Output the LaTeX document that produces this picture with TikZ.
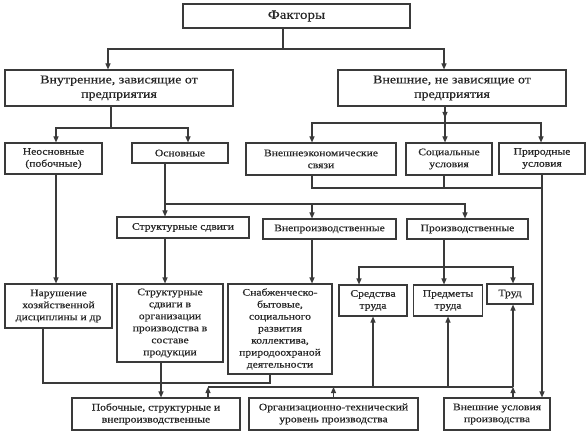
\documentclass[tikz,border=0pt]{standalone}
\usepackage{fontspec}
\setmainfont{Liberation Serif}[FakeStretch=1.16,FakeBold=0.4]
\usepackage{xcolor}
\usetikzlibrary{positioning,calc,arrows.meta}
\definecolor{linegray}{HTML}{3A3A3A}
\definecolor{textgray}{HTML}{262626}

\begin{document}
\begin{tikzpicture}[x=1pt,y=-1pt,
    blok/.style={draw=linegray, line width=1.1pt, fill=white, align=center,
        inner sep=0pt, text=textgray, font=\fontsize{10}{12}\selectfont},
    ln/.style={draw=linegray, line width=1.1pt},
    arr/.style={-{Triangle[length=6pt,width=5pt]}}]
    \useasboundingbox (0,0) rectangle (588,435);

    % Levels 1-2
    \node[blok, minimum width=227pt, minimum height=24pt, font=\fontsize{13}{15}\selectfont] (fak) at (296.5,16) {Факторы};
    \node[blok, minimum width=228pt, minimum height=36pt, font=\fontsize{12}{14.5}\selectfont] (vnut) at (119,88) {Внутренние, зависящие от\\предприятия};
    \node[blok, minimum width=228pt, minimum height=36pt, font=\fontsize{12}{14.5}\selectfont] (vnesh) at (452,88) {Внешние, не зависящие от\\предприятия};

    % Level 3
    \node[blok, minimum width=97pt, minimum height=31pt] (neosn) at (53.5,158.5) {Неосновные\\(побочные)};
    \node[blok, minimum width=96pt, minimum height=20pt] (osn) at (180,153) {Основные};
    \node[blok, minimum width=150pt, minimum height=32pt] (vneco) at (321,159) {Внешнеэкономические\\связи};
    \node[blok, minimum width=86pt, minimum height=32pt] (soc) at (449,159) {Социальные\\условия};
    \node[blok, minimum width=86pt, minimum height=31pt] (prir) at (542,158.5) {Природные\\условия};

    % Level 4
    \node[blok, minimum width=132pt, minimum height=21pt] (strsd) at (183,227.5) {Структурные сдвиги};
    \node[blok, minimum width=133pt, minimum height=20pt] (vnepr) at (329.5,229) {Внепроизводственные};
    \node[blok, minimum width=121pt, minimum height=20pt] (proizv) at (467.5,229) {Производственные};

    % Level 5
    \node[blok, minimum width=107pt, minimum height=44pt] (narush) at (58.5,306) {Нарушение\\хозяйственной\\дисциплины и др};
    \node[blok, minimum width=106pt, minimum height=78pt] (strorg) at (170,323) {Структурные\\сдвиги в\\организации\\производства в\\составе\\продукции};
    \node[blok, minimum width=104pt, minimum height=90pt] (snab) at (280,329) {Снабженческо-\\бытовые,\\социального\\развития\\коллектива,\\природоохраной\\деятельности};
    \node[blok, minimum width=68pt, minimum height=31pt] (sredst) at (373,300.5) {Средства\\труда};
    \node[blok, minimum width=69pt, minimum height=31pt] (predm) at (448,300.5) {Предметы\\труда};
    \node[blok, minimum width=46pt, minimum height=20pt] (trud) at (510,294) {Труд};

    % Bottom level
    \node[blok, minimum width=168pt, minimum height=32pt] (poboch) at (156,414) {Побочные, структурные и\\внепроизводственные};
    \node[blok, minimum width=169pt, minimum height=32pt] (org) at (333.5,414) {Организационно-технический\\уровень производства};
    \node[blok, minimum width=106pt, minimum height=32pt] (vneshusl) at (497,414) {Внешние условия\\производства};

    % Junctions
    \coordinate (r0) at (283,49);
    \coordinate (r1) at (111,128);
    \coordinate (r2) at (445,123);
    \coordinate (r3) at (165,204);
    \coordinate (r4) at (542,188);
    \coordinate (r5) at (444,267);
    \coordinate (r6) at (270,383);
    \coordinate (r7) at (513,387);
    \coordinate (r8) at (208,387);

    % Connectors, top part
    \draw[ln] (fak.south -| r0) -- (r0);
    \draw[ln,arr] (r0) -| ([xshift=-11pt]vnut.north);
    \draw[ln,arr] (r0) -| ([xshift=-8pt]vnesh.north);
    \draw[ln] (vnut.south -| r1) -- (r1);
    \draw[ln,arr] (r1) -| ([xshift=2.5pt]neosn.north);
    \draw[ln,arr] (r1) -| ([xshift=8pt]osn.north);
    \draw[ln] (vnesh.south -| r2) -- (r2);
    \draw[ln,arr] (vnesh.south -| r2) -- ([yshift=5pt]r2);
    \draw[ln,arr] (r2) -- (soc.north -| r2);
    \draw[ln,arr] (r2) -| ([xshift=-9pt]vneco.north);
    \draw[ln,arr] (r2) -| ([xshift=-1pt]prir.north);

    % Connectors, middle part
    \draw[ln] ([xshift=-9pt]vneco.south) |- (r4);
    \draw[ln] ([xshift=-5pt]soc.south) |- (r4);
    \draw[ln,arr] (prir.south) -- (prir.south |- vneshusl.north);
    \draw[ln,arr] (osn.south -| r3) -- (strsd.north -| r3);
    \draw[ln,arr] (r3) -| ([xshift=-17.5pt]vnepr.north);
    \draw[ln,arr] (r3) -| ([xshift=-2.5pt]proizv.north);
    \draw[ln,arr] (strsd.south -| r3) -- (strorg.north -| r3);
    \draw[ln,arr] ([xshift=2.5pt]neosn.south) -- ([xshift=-2.5pt]narush.north);
    \draw[ln,arr] ([xshift=-17.5pt]vnepr.south) -- ([xshift=32pt]snab.north);
    \draw[ln] ([xshift=-23.5pt]proizv.south) -- (r5);
    \draw[ln,arr] (r5) -| ([xshift=-14pt]sredst.north);
    \draw[ln,arr] (r5) -- (predm.north -| r5);
    \draw[ln,arr] (r5) -| ([xshift=3pt]trud.north);

    % Connectors, bottom part
    \draw[ln] ([xshift=-15.5pt]narush.south) |- (r6) -- ([xshift=-10pt]snab.south);
    \draw[ln,arr] ([xshift=-9pt]strorg.south) -- ([xshift=5pt]poboch.north);
    \draw[ln] (r8) -- (r7);
    \draw[ln,arr] (poboch.north -| r8) -- (r8);
    \draw[ln,arr] (org.north) -- (org.north |- r7);
    \draw[ln,arr] (vneshusl.north -| r7) -- (r7);
    \draw[ln,arr] (r7) -- (trud.south -| r7);
    \draw[ln,arr] (sredst.south |- r7) -- (sredst.south);
    \draw[ln,arr] (predm.south |- r7) -- (predm.south);
\end{tikzpicture}
\end{document}
